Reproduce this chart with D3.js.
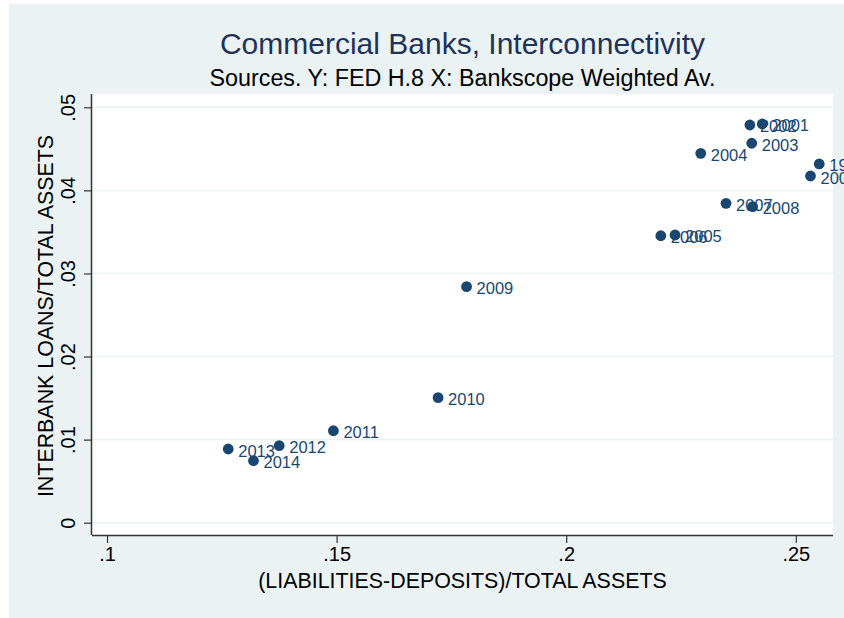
<!DOCTYPE html>
<html>
<head>
<meta charset="utf-8">
<script src="https://cdn.jsdelivr.net/npm/d3@7"></script>
<style>
  html, body { margin: 0; padding: 0; background: #ffffff; }
  svg { display: block; }
  text { font-family: "Liberation Sans", Arial, Helvetica, sans-serif; }
</style>
</head>
<body>
<svg id="chart" width="844" height="618"></svg>
<script>
// Years and the two ratios for each year
const years = ["1999", "2000", "2001", "2002", "2003", "2004", "2005", "2006",
               "2007", "2008", "2009", "2010", "2011", "2012", "2013", "2014"];
// (liabilities - deposits) / total assets
const wholesaleShare = [0.2551, 0.2532, 0.2427, 0.2400, 0.2404, 0.2293, 0.2237, 0.2206,
                        0.2348, 0.2406, 0.1783, 0.1721, 0.1493, 0.1375, 0.1264, 0.1319];
// interbank loans / total assets
const interbankShare = [0.04318, 0.04173, 0.04799, 0.04787, 0.04567, 0.04446, 0.03463, 0.03454,
                        0.03844, 0.03804, 0.02841, 0.01505, 0.01107, 0.00927, 0.00887, 0.00746];

const xTicks = [0.10, 0.15, 0.20, 0.25];
const xTickLabels = [".1", ".15", ".2", ".25"];
const yTicks = [0, 0.01, 0.02, 0.03, 0.04, 0.05];
const yTickLabels = ["0", ".01", ".02", ".03", ".04", ".05"];

const titleText = "Commercial Banks, Interconnectivity";
const subtitleText = "Sources. Y: FED H.8 X: Bankscope Weighted Av.";
const xTitle = "(LIABILITIES-DEPOSITS)/TOTAL ASSETS";
const yTitle = "INTERBANK LOANS/TOTAL ASSETS";

const points = years.map((y, i) => ({ year: y, x: wholesaleShare[i], y: interbankShare[i] }));

const svg = d3.select("#chart");
const W = 844, H = 618;
const plot = { left: 92, right: 833, top: 94, bottom: 535 };

const markColor = "#1a476f";
const bgColor = "#eaf2f3";

// graph background
svg.append("rect").attr("x", 9).attr("y", 4).attr("width", W - 9).attr("height", H - 4)
  .attr("fill", bgColor);

// plot region
svg.append("rect").attr("x", plot.left).attr("y", plot.top)
  .attr("width", plot.right - plot.left).attr("height", plot.bottom - plot.top)
  .attr("fill", "#ffffff");

const x = d3.scaleLinear().domain([0.09673, 0.2581]).range([plot.left, plot.right]);
const y = d3.scaleLinear().domain([-0.00148, 0.0516]).range([plot.bottom, plot.top]);

// horizontal grid lines
svg.append("g").selectAll("line").data(yTicks).join("line")
  .attr("x1", plot.left).attr("x2", plot.right)
  .attr("y1", d => y(d)).attr("y2", d => y(d))
  .attr("stroke", bgColor).attr("stroke-width", 1.5);

// x axis
const xAxis = svg.append("g").attr("transform", `translate(0,${plot.bottom})`)
  .call(d3.axisBottom(x).tickValues(xTicks).tickSize(8).tickPadding(4)
    .tickFormat((d, i) => xTickLabels[i]));
xAxis.select(".domain").attr("d", `M${plot.left},0.5H${plot.right}`).attr("stroke", "#333").attr("stroke-width", 1.5);
xAxis.selectAll(".tick line").attr("stroke", "#333").attr("stroke-width", 1.2);
xAxis.selectAll(".tick text").attr("font-size", 20).attr("fill", "#000");

// y axis with vertical tick labels
const yAxis = svg.append("g").attr("transform", `translate(${plot.left},0)`)
  .call(d3.axisLeft(y).tickValues(yTicks).tickSize(8).tickFormat((d, i) => yTickLabels[i]));
yAxis.select(".domain").attr("d", `M-0.5,${plot.top}V${plot.bottom}`).attr("stroke", "#333").attr("stroke-width", 1.5);
yAxis.selectAll(".tick line").attr("stroke", "#333").attr("stroke-width", 1.2);
yAxis.selectAll(".tick text")
  .attr("font-size", 20).attr("fill", "#000")
  .attr("x", null).attr("dy", null)
  .attr("text-anchor", "middle")
  .attr("transform", "translate(-24,0) rotate(-90)")
  .attr("dominant-baseline", "central");

// axis titles
svg.append("text").attr("x", (plot.left + plot.right) / 2).attr("y", 588)
  .attr("text-anchor", "middle").attr("font-size", 21.4).attr("fill", "#000").text(xTitle);
svg.append("text")
  .attr("transform", `translate(53,316) rotate(-90)`)
  .attr("text-anchor", "middle").attr("font-size", 21.4).attr("fill", "#000").text(yTitle);

// titles
svg.append("text").attr("x", (plot.left + plot.right) / 2).attr("y", 54)
  .attr("text-anchor", "middle").attr("font-size", 30).attr("fill", "#1f3259").text(titleText);
svg.append("text").attr("x", (plot.left + plot.right) / 2).attr("y", 86)
  .attr("text-anchor", "middle").attr("font-size", 23.3).attr("fill", "#000").text(subtitleText);

// markers with year labels to the right
const g = svg.append("g");
g.selectAll("circle").data(points).join("circle")
  .attr("cx", d => x(d.x)).attr("cy", d => y(d.y)).attr("r", 5.4)
  .attr("fill", markColor);
g.selectAll("text").data(points).join("text")
  .attr("x", d => x(d.x) + 10).attr("y", d => y(d.y) + 1.5)
  .attr("dominant-baseline", "central")
  .attr("font-size", 16.5).attr("fill", markColor)
  .text(d => d.year);
</script>
</body>
</html>
